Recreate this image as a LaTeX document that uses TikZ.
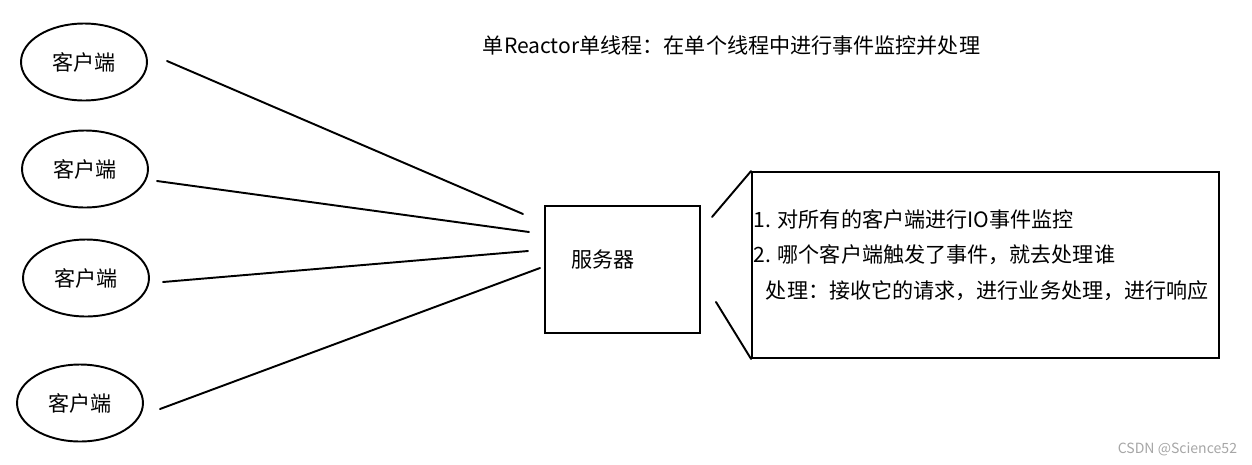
\documentclass[tikz,border=0pt]{standalone}
\usepackage{fontspec}
\setmainfont{Noto Sans CJK SC}
\usetikzlibrary{shapes.geometric}

\begin{document}
\begin{tikzpicture}[x=0.02cm,y=-0.02cm,line width=1.1pt,line cap=round,
  font=\fontsize{12pt}{14pt}\selectfont,
  client/.style={draw,ellipse,minimum width=2.52cm,minimum height=1.54cm,inner sep=0pt},
  srvbox/.style={draw,rectangle,minimum width=3.1cm,minimum height=2.54cm,inner sep=0pt},
  notebox/.style={draw,rectangle,minimum width=9.34cm,minimum height=3.72cm,inner sep=0pt},
  txt/.style={anchor=west,inner sep=0pt}]
\useasboundingbox (0,0) rectangle (1252,464);
\node[txt] (title) at (482,46) {单Reactor单线程：在单个线程中进行事件监控并处理};
% clients
\node[client] (c1) at (84,62) {客户端};
\node[client] (c2) at (85,169) {客户端};
\node[client] (c3) at (86,278) {客户端};
\node[client] (c4) at (80,403) {客户端};
% server
\node[srvbox] (server) at (622.5,269.5) {};
\node[inner sep=0pt] (srvname) at (603,259) {服务器};
\coordinate (c1o) at (167,61);  \coordinate (s1) at (523,214);
\coordinate (c2o) at (157,181); \coordinate (s2) at (529,232);
\coordinate (c3o) at (163,282); \coordinate (s3) at (528,251);
\coordinate (c4o) at (160,409); \coordinate (s4) at (540,268);
\draw (c1o) -- (s1);
\draw (c2o) -- (s2);
\draw (c3o) -- (s3);
\draw (c4o) -- (s4);
% callout
\node[notebox] (note) at (985.5,265) {};
\coordinate (n1) at (712,217);
\coordinate (n2) at (716,302);
\draw (n1) -- (note.north west);
\draw (n2) -- (note.south west);
\node[txt] (l1) at (753,219) {1. 对所有的客户端进行IO事件监控};
\node[txt] (l2) at (753,255) {2. 哪个客户端触发了事件，就去处理谁};
\node[txt] (l3) at (765,291) {处理：接收它的请求，进行业务处理，进行响应};
\node[anchor=east,inner sep=0pt,text=gray!70,font=\fontsize{8pt}{9pt}\selectfont] (mark) at (1238,449) {CSDN @Science52};
\end{tikzpicture}
\end{document}
